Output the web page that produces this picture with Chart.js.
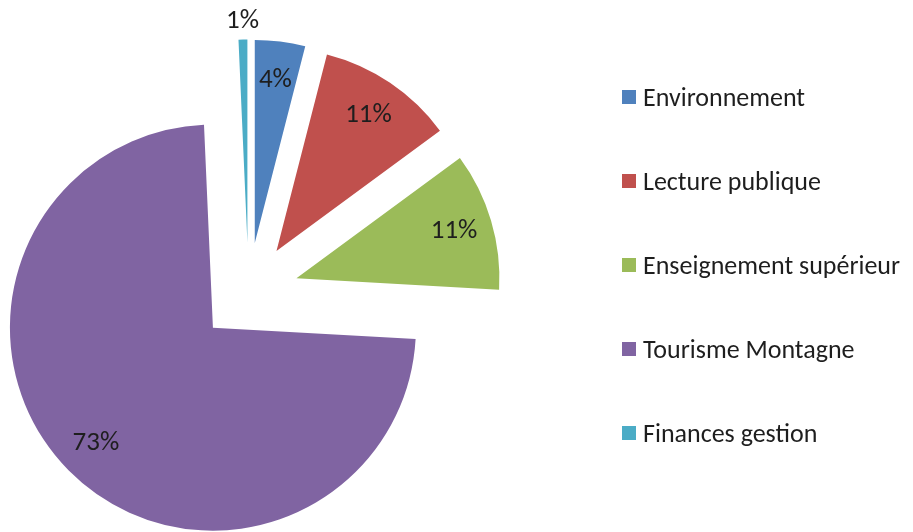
<!DOCTYPE html>
<html>
<head>
<meta charset="utf-8">
<script src="https://cdn.jsdelivr.net/npm/chart.js@4.4.1/dist/chart.umd.min.js"></script>
<style>
  html, body { margin: 0; padding: 0; background: #fff; }
  #wrap { position: relative; width: 913px; height: 532px; }
  #c { position: absolute; left: 0; top: 0; }
  #legend { position: absolute; left: 622px; top: 0; font-family: Carlito, Lato, "Open Sans", sans-serif; font-size: 26px; color: #1e1e1e; }
  .item { position: absolute; left: 0; white-space: nowrap; display: flex; align-items: center; height: 30px; }
  .box { width: 14px; height: 14px; margin-right: 7px; flex: none; }
</style>
</head>
<body>
<div id="wrap">
  <canvas id="c" width="913" height="532"></canvas>
  <div id="legend"></div>
</div>
<script>
const categories = ["Environnement", "Lecture publique", "Enseignement supérieur", "Tourisme Montagne", "Finances gestion"];
const values = [4.0, 10.9, 11.0, 73.4, 0.7];
const colors = ["#4F81BD", "#C0504D", "#9BBB59", "#8064A2", "#4BACC6"];

const FONT = "Carlito, Lato, 'Open Sans', sans-serif";
const EXPLODE = 50;

// Exploded pie: shift each arc along its bisector, keeping its radius.
const origDraw = Chart.ArcElement.prototype.draw;
Chart.ArcElement.prototype.draw = function (ctx) {
  const h = (this.startAngle + this.endAngle) / 2;
  ctx.save();
  ctx.translate(Math.cos(h) * EXPLODE, Math.sin(h) * EXPLODE);
  origDraw.call(this, ctx);
  ctx.restore();
};

const labelPlugin = {
  id: 'pctLabels',
  afterDatasetsDraw(chart) {
    const ctx = chart.ctx;
    const meta = chart.getDatasetMeta(0);
    const data = chart.data.datasets[0].data;
    const total = data.reduce((a, b) => a + b, 0);
    ctx.save();
    ctx.font = "27px " + FONT;
    ctx.fillStyle = "#1e1e1e";
    ctx.textAlign = "center";
    ctx.textBaseline = "middle";
    meta.data.forEach((arc, i) => {
      const p = arc.getProps(['x', 'y', 'startAngle', 'endAngle', 'outerRadius']);
      const mid = (p.startAngle + p.endAngle) / 2;
      const frac = data[i] / total;
      const rr = frac < 0.02 ? p.outerRadius * 1.09 : p.outerRadius * 0.81;
      const x = p.x + Math.cos(mid) * (EXPLODE + rr);
      const y = p.y + Math.sin(mid) * (EXPLODE + rr);
      ctx.fillText(Math.round(frac * 100) + "%", x, y);
    });
    ctx.restore();
  }
};

new Chart(document.getElementById('c'), {
  type: 'pie',
  data: {
    labels: categories,
    datasets: [{
      data: values,
      backgroundColor: colors,
      borderWidth: 0,
      clip: false
    }]
  },
  options: {
    responsive: false,
    animation: false,
    radius: 203,
    layout: { padding: { left: 0, right: 416, top: 53, bottom: 0 } },
    plugins: { legend: { display: false }, tooltip: { enabled: false } }
  },
  plugins: [labelPlugin]
});

const legend = document.getElementById('legend');
categories.forEach((name, i) => {
  const it = document.createElement('div');
  it.className = 'item';
  it.style.top = (97 + i * 84 - 15) + 'px';
  const b = document.createElement('span');
  b.className = 'box';
  b.style.background = colors[i];
  const t = document.createElement('span');
  t.textContent = name;
  it.appendChild(b);
  it.appendChild(t);
  legend.appendChild(it);
});
</script>
</body>
</html>
